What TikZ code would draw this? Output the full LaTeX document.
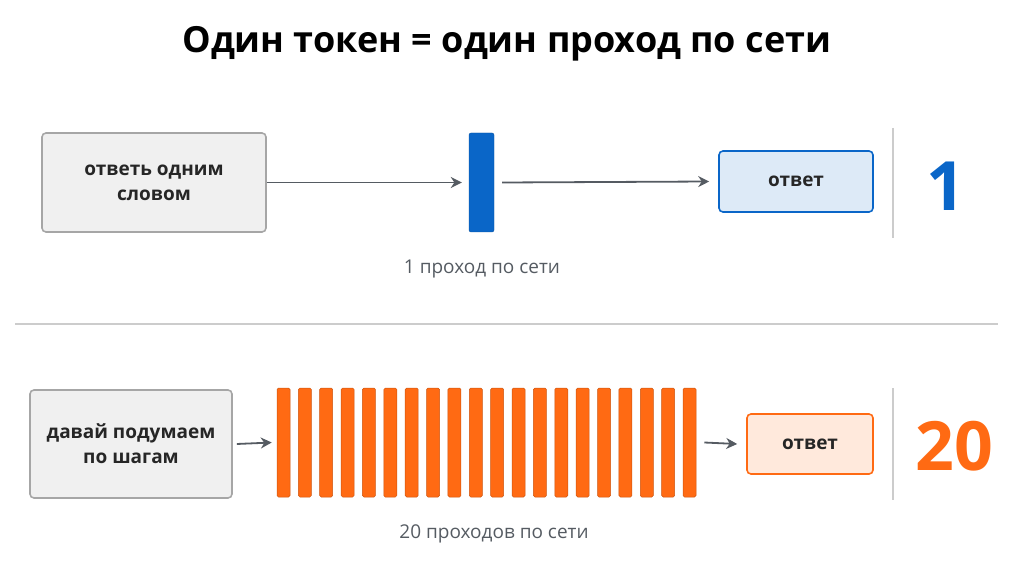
\documentclass[tikz,border=0pt]{standalone}
\usepackage{fontspec}
\setmainfont{Open Sans}
\usetikzlibrary{arrows.meta}
\definecolor{bl}{HTML}{0A66C8}
\definecolor{og}{HTML}{FF6A13}
\definecolor{gr}{HTML}{555B62}
\begin{document}
\begin{tikzpicture}[x=1pt,y=-1pt,
 box/.style={draw=#1,rounded corners=4,line width=1.6pt,align=center,font=\bfseries\fontsize{19}{25}\selectfont,text=black!85},
 arr/.style={-{Stealth[length=11,width=11]},line width=1.8pt,draw=gr},
 bar/.style={fill=og,draw=og!80!black,line width=0.5pt,rounded corners=1.5},
 sep/.style={draw=black!20,line width=1.2pt},
 lab/.style={text=gr,font=\fontsize{19}{22}\selectfont}]
\useasboundingbox (0,0) rectangle (1014,585);
\node[font=\bfseries\fontsize{36}{40}\selectfont] (t) at (507,44) {Один токен = один проход по сети};
% top
\node[box=black!35,fill=black!6,minimum width=224,minimum height=99] (q1) at (154,182.5) {ответь одним\\словом};
\node[fill=bl,draw=bl!80!black,rounded corners=2,minimum width=25,minimum height=99,inner sep=0] (b1) at (481.5,182.5) {};
\node[box=bl,fill=bl!14,minimum width=154,minimum height=61] (a1) at (796,181.5) {ответ};
\draw[arr] (q1.east) -- ([xshift=-7]b1.west);
\draw[arr] ([xshift=8]b1.east) -- ([xshift=-9]a1.west);
\coordinate (s1a) at (893,128); \coordinate (s1b) at (893,238);
\draw[sep] (s1a) -- (s1b);
\node[text=bl,font=\bfseries\fontsize{68}{70}\selectfont] (n1) at (946,186) {1};
\node[lab] (l1) at (482,269) {1 проход по сети};
\coordinate (ha) at (15,324); \coordinate (hb) at (998,324);
\draw[sep] (ha) -- (hb);
% bottom
\node[box=black!35,fill=black!6,minimum width=202,minimum height=108] (q2) at (131,444) {давай подумаем\\по шагам};
\foreach \i in {0,...,19}{
 \node[bar,minimum width=13,minimum height=109,inner sep=0] (c\i) at (283.5+21.37*\i,442.5) {};
}
\node[box=og,fill=og!15,minimum width=126,minimum height=60] (a2) at (810,444) {ответ};
\draw[arr] ([xshift=4]q2.east) -- ([xshift=-5]c0.west);
\draw[arr] ([xshift=8]c19.east) -- ([xshift=-9]a2.west);
\coordinate (s2a) at (893,388); \coordinate (s2b) at (893,500);
\draw[sep] (s2a) -- (s2b);
\node[text=og,font=\bfseries\fontsize{68}{70}\selectfont] (n2) at (954,446) {20};
\node[lab] (l2) at (494,534) {20 проходов по сети};
\end{tikzpicture}
\end{document}
